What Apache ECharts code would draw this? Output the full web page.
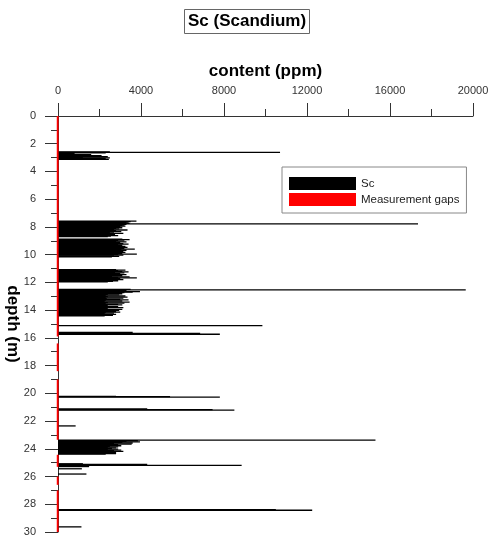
<!DOCTYPE html>
<html>
<head>
<meta charset="utf-8">
<script src="https://cdn.jsdelivr.net/npm/echarts@6/dist/echarts.min.js"></script>
<style>html,body{margin:0;padding:0;background:#fff;}#c{width:490px;height:535px;}</style>
</head>
<body>
<div id="c"></div>
<script>
// depth (m) of each Sc sample
const scDepth = [
  2.58, 2.62, 2.66, 2.70, 2.74, 2.78, 2.82, 2.86, 2.90, 2.94, 2.98, 3.02, 3.06, 3.10, 3.13,
  7.58, 7.62, 7.66, 7.70, 7.74, 7.78, 7.82, 7.86, 7.90, 7.94, 7.98, 8.02, 8.06, 8.10, 8.14,
  8.18, 8.22, 8.26, 8.30, 8.34, 8.38, 8.42, 8.46, 8.50, 8.54, 8.58, 8.62, 8.66, 8.70,
  8.88, 8.92, 8.96, 9.00, 9.04, 9.08, 9.12, 9.16, 9.20, 9.24, 9.28, 9.32, 9.36, 9.40, 9.44,
  9.48, 9.52, 9.56, 9.60, 9.64, 9.68, 9.72, 9.76, 9.80, 9.84, 9.88, 9.92, 9.96, 10.00, 10.04,
  10.08, 10.12, 10.16,
  11.08, 11.12, 11.16, 11.20, 11.24, 11.28, 11.32, 11.36, 11.40, 11.44, 11.48, 11.52, 11.56,
  11.60, 11.64, 11.68, 11.72, 11.76, 11.80, 11.84, 11.88, 11.92, 11.96,
  12.50, 12.54, 12.58, 12.62, 12.66, 12.70, 12.74, 12.78, 12.82, 12.86, 12.90, 12.94, 12.98,
  13.02, 13.06, 13.10, 13.14, 13.18, 13.22, 13.26, 13.30, 13.34, 13.38, 13.42, 13.46, 13.50,
  13.54, 13.58, 13.62, 13.66, 13.70, 13.74, 13.78, 13.82, 13.86, 13.90, 13.94, 13.98, 14.02,
  14.06, 14.10, 14.14, 14.18, 14.22, 14.26, 14.30, 14.34, 14.38, 14.42,
  15.12, 15.60, 15.68, 15.74,
  20.22, 20.24, 20.28,
  21.12, 21.17, 21.21,
  22.35,
  23.38, 23.42, 23.46, 23.50, 23.54, 23.58, 23.62, 23.66, 23.70, 23.74, 23.78, 23.82, 23.86,
  23.90, 23.94, 23.98, 24.02, 24.06, 24.10, 24.14, 24.18, 24.22, 24.26, 24.30, 24.34, 24.38,
  25.08, 25.13, 25.20, 25.28, 25.44, 25.82,
  28.38, 28.43,
  29.63
];
// Sc content (ppm) at each depth above
const scValue = [
  2500, 10700, 2300, 800, 600, 1600, 700, 2100, 900, 2400, 1200, 2500, 2300, 1000, 2450,
  3780, 3500, 3400, 3300, 3450, 17350, 3300, 3200, 3100, 3250, 3000, 2900, 3100, 2800, 2950,
  2700, 3350, 2800, 2600, 3050, 2700, 2500, 3150, 2600, 2750, 2450, 2900, 2550, 2400,
  3100, 3450, 2900, 3200, 2800, 3300, 3000, 2750, 3150, 3400, 2900, 3100, 2700, 3250, 3000,
  3350, 2850, 3200, 3700, 3050, 3300, 2800, 3150, 2950, 3250, 2700, 3100, 3800, 2900, 3150,
  2700, 2950, 2600,
  2800, 3250, 2900, 3100, 3400, 2750, 3200, 3000, 2700, 3300, 2850, 3100, 2600,
  3450, 2900, 3800, 3000, 2700, 3150, 2550, 2900, 2650, 2400,
  3500, 19650, 3300, 3100, 3950, 3600, 3200, 2900, 3100, 2400, 2950, 2300, 3250,
  2400, 3350, 2300, 3150, 2350, 3000, 3400, 2300, 3100, 2250, 3450, 2400, 3200,
  2300, 2900, 3100, 2400, 2300, 2900, 2350, 3150, 2300, 2400, 3100, 2300, 2950,
  2250, 2800, 3000, 2300, 2700, 2250, 2800, 2300, 2650, 2250,
  9850, 3600, 6850, 7800,
  2800, 5400, 7800,
  4300, 7450, 8500,
  850,
  15300, 3850, 3300, 3950, 3100, 3600, 2700, 3550, 2900, 2600, 3050, 2500, 2900,
  2400, 2800, 2600, 2900, 2400, 3050, 2700, 3150, 2500, 2800, 2350, 2800, 2300,
  1200, 4300, 8850, 1500, 1150, 1370,
  10500, 12250,
  1130
];
// measurement gap intervals (m)
const gapFrom = [0, 16.4, 19.0, 24.43, 26.0, 27.0];
const gapTo   = [15.9, 18.4, 23.35, 25.3, 26.6, 30];
// axis ticks
const xTicks = ['0', '4000', '8000', '12000', '16000', '20000'];
const yTicks = ['0','2','4','6','8','10','12','14','16','18','20','22','24','26','28','30'];

const FONT = "'Liberation Sans', Arial, sans-serif";
const scData = scDepth.map((d, i) => [scValue[i], d]);
const gapData = gapFrom.map((f, i) => [f, gapTo[i]]);

const chart = echarts.init(document.getElementById('c'), null, {renderer: 'canvas'});
chart.setOption({
  animation: false,
  backgroundColor: '#fff',
  title: {
    text: 'Sc (Scandium)',
    left: 184, top: 9,
    padding: [4, 4, 4, 4],
    borderColor: '#666', borderWidth: 1,
    textStyle: {fontFamily: FONT, fontSize: 17, fontWeight: 'bold', color: '#000'}
  },
  legend: {
    orient: 'vertical',
    left: 282, top: 167,
    padding: [10, 7, 7, 7],
    itemWidth: 67, itemHeight: 13, itemGap: 3,
    icon: 'rect',
    borderColor: '#888', borderWidth: 1,
    textStyle: {fontFamily: FONT, fontSize: 11.5, color: '#222'},
    data: ['Sc', 'Measurement gaps']
  },
  grid: {left: 58, right: 17, top: 116, bottom: 3, containLabel: false, outerBoundsMode: 'none'},
  xAxis: {
    type: 'value', position: 'top', min: 0, max: 20000, interval: 4000,
    name: 'content (ppm)', nameLocation: 'middle', nameGap: 36, nameMoveOverlap: false,
    nameTextStyle: {fontFamily: FONT, fontSize: 17, fontWeight: 'bold', color: '#000'},
    axisLine: {show: true, lineStyle: {color: '#333', width: 1}},
    axisTick: {show: true, length: 13, lineStyle: {color: '#333'}},
    minorTick: {show: true, splitNumber: 2, length: 7, lineStyle: {color: '#333'}},
    splitLine: {show: false},
    axisLabel: {margin: 20, fontFamily: FONT, fontSize: 11, color: '#333',
      formatter: v => xTicks[Math.round(v / 4000)] ?? ''}
  },
  yAxis: {
    type: 'value', inverse: true, min: 0, max: 30, interval: 2,
    name: 'depth (m)', nameLocation: 'middle', nameGap: 37, nameRotate: -90, nameMoveOverlap: false,
    nameTextStyle: {fontFamily: FONT, fontSize: 17, fontWeight: 'bold', color: '#000'},
    axisLine: {show: true, lineStyle: {color: '#333', width: 1}},
    axisTick: {show: true, length: 13, lineStyle: {color: '#333'}},
    minorTick: {show: true, splitNumber: 2, length: 7, lineStyle: {color: '#333'}},
    splitLine: {show: false},
    axisLabel: {margin: 22, fontFamily: FONT, fontSize: 11, color: '#333',
      formatter: v => yTicks[Math.round(v / 2)] ?? ''}
  },
  series: [
    {
      name: 'Sc', type: 'custom', z: 3,
      itemStyle: {color: '#000'},
      encode: {x: 0, y: 1},
      data: scData,
      renderItem: function (params, api) {
        const v = api.value(0), d = api.value(1);
        const p0 = api.coord([0, d]);
        const p1 = api.coord([v, d]);
        const h = Math.max(1.3, api.size([0, 0.045])[1]);
        return {type: 'rect', shape: {x: p0[0], y: p0[1] - h / 2, width: p1[0] - p0[0], height: h},
          style: {fill: '#000'}};
      }
    },
    {
      name: 'Measurement gaps', type: 'custom', z: 4,
      itemStyle: {color: '#ff0000'},
      encode: {x: 0, y: 1},
      data: gapData.map(g => [g[0], g[1]]),
      dimensions: ['from', 'to'],
      renderItem: function (params, api) {
        const f = api.value(0), t = api.value(1);
        const a = api.coord([-60, f]);
        const b = api.coord([30, t]);
        return {type: 'rect', shape: {x: a[0], y: a[1], width: b[0] - a[0], height: b[1] - a[1]},
          style: {fill: '#ff0000'}};
      }
    }
  ]
});
</script>
</body>
</html>
